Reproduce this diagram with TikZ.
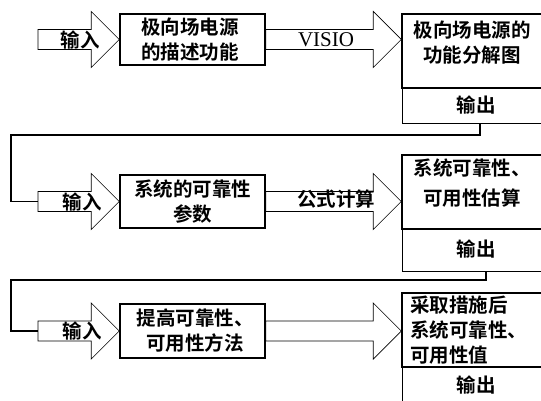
\documentclass[tikz,border=0pt]{standalone}
\usepackage{fontspec}
\setmainfont{Noto Sans CJK SC}[BoldFont=Noto Sans CJK SC Bold]
\newfontfamily\latinserif{Liberation Serif}
\usetikzlibrary{calc}
\newcommand\blockarr[2]{%
  \draw[arr] let \p1=(#1), \p2=(#2) in
    (\x1,\y2+10pt) -- (\x2-28pt,\y2+10pt) -- (\x2-28pt,\y2+28pt) -- (\x2,\y2)
    -- (\x2-28pt,\y2-28pt) -- (\x2-28pt,\y2-10pt) -- (\x1,\y2-10pt) -- cycle;}
\begin{document}
\begin{tikzpicture}[x=1pt,y=-1pt,
  box/.style={draw,line width=1.5pt,inner sep=0pt},
  obox/.style={draw,line width=0.9pt,inner sep=0pt},
  arr/.style={draw,line width=0.7pt},
  conn/.style={draw,line width=1.3pt},
  txt/.style={align=center,inner sep=0pt,font=\bfseries\fontsize{19.5}{25}\selectfont},
  txtl/.style={align=left,inner sep=0pt,font=\bfseries\fontsize{19.5}{25}\selectfont}]
\clip (0,0) rectangle (541,401);
\fill[white] (0,0) rectangle (541,401);

% ---------- row 1 ----------
\node[box,minimum width=145pt,minimum height=51pt] (b1) at (192.5,39.5) {};
\node[txt] (b1t) at (190,40) {极向场电源\\的描述功能};
\node[box,minimum width=158pt,minimum height=74pt] (rb1) at (481,51) {};
\node[obox,minimum width=158pt,minimum height=35pt] (ob1) at (481,105.5) {};
\node[txt] (rb1t) at (472,43) {极向场电源的\\功能分解图};
\node[txt] (ob1t) at (476,105) {输出};
\coordinate (in1) at (38,39.5);
\blockarr{in1}{b1.west}
\blockarr{b1.east}{b1.east -| rb1.west}
\node[txt] (i1t) at (80,40) {输入};
\node[inner sep=0pt,font=\latinserif\fontsize{21}{22}\selectfont] (v1) at (326,40) {VISIO};

% ---------- row 2 ----------
\node[box,minimum width=145pt,minimum height=53pt] (b2) at (192.5,201.5) {};
\node[txt] (b2t) at (b2) {系统的可靠性\\参数};
\node[box,minimum width=158pt,minimum height=74pt] (rb2) at (481,192) {};
\node[obox,minimum width=158pt,minimum height=42pt] (ob2) at (481,250) {};
\node[txt,font=\bfseries\fontsize{19.5}{30}\selectfont] (rb2t) at (472,183) {系统可靠性、\\可用性估算};
\node[txt] (ob2t) at (476,249) {输出};
\coordinate (in2) at (38,201.5);
\blockarr{in2}{b2.west}
\blockarr{b2.east}{b2.east -| rb2.west}
\node[txt] (i2t) at (82,201.5) {输入};
\node[txt] (f2) at (336,199) {公式计算};

% ---------- row 3 ----------
\node[box,minimum width=145pt,minimum height=54pt] (b3) at (192.5,331) {};
\node[txt] (b3t) at (195,331) {提高可靠性、\\可用性方法};
\node[box,minimum width=158pt,minimum height=74pt] (rb3) at (481,330) {};
\node[obox,minimum width=158pt,minimum height=53pt] (ob3) at (481,393.5) {};
\node[txtl,anchor=west] (rb3t) at (410,330) {采取措施后\\系统可靠性、\\可用性值};
\node[txt] (ob3t) at (476,385) {输出};
\coordinate (in3) at (38,331);
\blockarr{in3}{b3.west}
\blockarr{b3.east}{b3.east -| rb3.west}
\node[txt] (i3t) at (82,331) {输入};

% ---------- connectors ----------
\coordinate (k1) at (11,135);
\coordinate (k2) at (11,280);
\draw[conn] ([xshift=-1pt]ob1.south) |- (k1) |- (in2);
\draw[conn] ([xshift=5pt]ob2.south) |- (k2) |- (in3);
\end{tikzpicture}
\end{document}
